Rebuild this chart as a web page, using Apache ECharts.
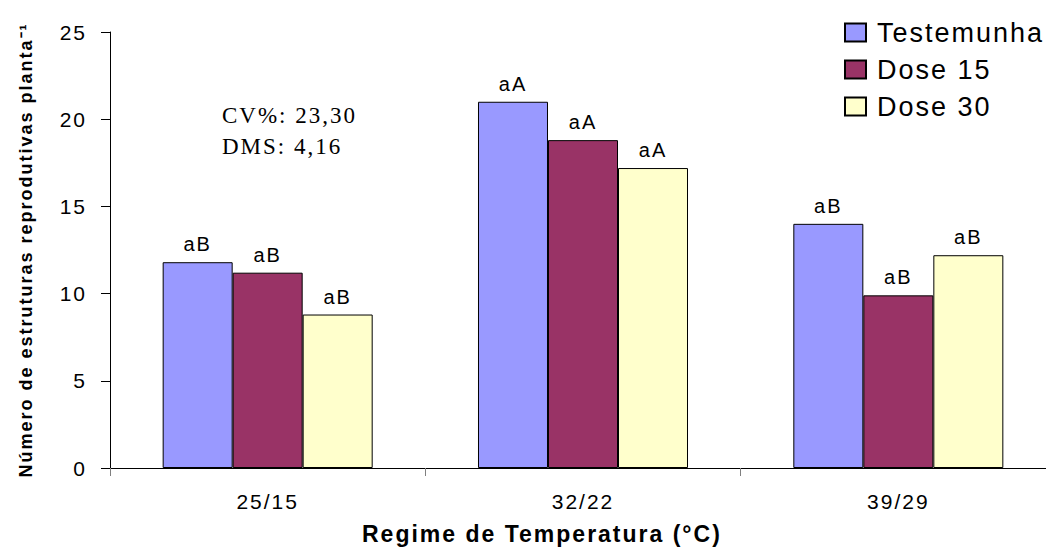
<!DOCTYPE html>
<html>
<head>
<meta charset="utf-8">
<script src="https://cdn.jsdelivr.net/npm/echarts@6/dist/echarts.min.js"></script>
<style>
  html, body { margin: 0; padding: 0; background: #fff; overflow: hidden; }
  /* plot area runs past the right edge in the original, so the chart is a bit wider than the window */
  #chart { width: 1057px; height: 559px; }
  /* the original chart has wide letter spacing on all its text */
  #chart svg text { letter-spacing: 2px; }
</style>
</head>
<body>
<div id="chart"></div>
<script>
const regimes = ["25/15", "32/22", "39/29"];
const seriesNames = ["Testemunha", "Dose 15", "Dose 30"];
const testemunha = [11.8, 21.0, 14.0];
const dose15 = [11.2, 18.8, 9.9];
const dose30 = [8.8, 17.2, 12.2];
const lettersTestemunha = ["aB", "aA", "aB"];
const lettersDose15 = ["aB", "aA", "aB"];
const lettersDose30 = ["aB", "aA", "aB"];
const colors = ["#9999FF", "#993366", "#FFFFCC"];

const chart = echarts.init(document.getElementById("chart"), null, { renderer: "svg" });

function barSeries(name, values, letters, color) {
  return {
    name: name,
    type: "bar",
    data: values,
    barGap: "0%",
    barCategoryGap: "33.4%",
    itemStyle: { color: color, borderColor: "#000", borderWidth: 1 },
    label: {
      show: true,
      position: "top",
      distance: 8,
      color: "#000",
      fontFamily: "Liberation Sans",
      fontSize: 20,
      formatter: (p) => letters[p.dataIndex]
    }
  };
}

const option = {
  animation: false,
  backgroundColor: "#fff",
  grid: { left: 110, top: 32, width: 946, height: 436 },
  legend: {
    orient: "vertical",
    left: 839,
    top: 14,
    itemWidth: 21,
    itemHeight: 18,
    itemGap: 10,
    icon: "rect",
    data: seriesNames,
    textStyle: { fontFamily: "Liberation Sans", fontSize: 27, color: "#000", padding: [0, 0, 0, 6] }
  },
  xAxis: {
    type: "category",
    data: regimes,
    axisLine: { lineStyle: { color: "#000", width: 1 } },
    axisTick: { show: true, length: 8, lineStyle: { color: "#808080" } },
    axisLabel: { color: "#000", fontFamily: "Liberation Sans", fontSize: 21, margin: 23 }
  },
  yAxis: {
    type: "value",
    min: 0,
    max: 25,
    interval: 5,
    name: "Número de estruturas reprodutivas planta⁻¹",
    nameLocation: "middle",
    nameGap: 75,
    nameRotate: 90,
    nameTextStyle: {
      fontFamily: "Liberation Sans",
      fontWeight: "bold",
      fontSize: 18,
      color: "#000"
    },
    axisLine: { show: true, lineStyle: { color: "#000", width: 1 } },
    axisTick: { show: true, length: 9, lineStyle: { color: "#000" } },
    splitLine: { show: false },
    axisLabel: { color: "#000", fontFamily: "Liberation Sans", fontSize: 21, margin: 23 }
  },
  graphic: [
    {
      type: "text",
      left: 222,
      top: 100,
      style: {
        text: "CV%: 23,30\nDMS: 4,16",
        font: "23px 'Liberation Serif'",
        lineHeight: 31,
        fill: "#000"
      }
    },
    {
      type: "text",
      left: 362,
      top: 522,
      style: {
        text: "Regime de Temperatura (°C)",
        font: "bold 23px 'Liberation Sans'",
        fill: "#000"
      }
    }
  ],
  series: [
    barSeries(seriesNames[0], testemunha, lettersTestemunha, colors[0]),
    barSeries(seriesNames[1], dose15, lettersDose15, colors[1]),
    barSeries(seriesNames[2], dose30, lettersDose30, colors[2])
  ]
};

chart.setOption(option);
</script>
</body>
</html>
